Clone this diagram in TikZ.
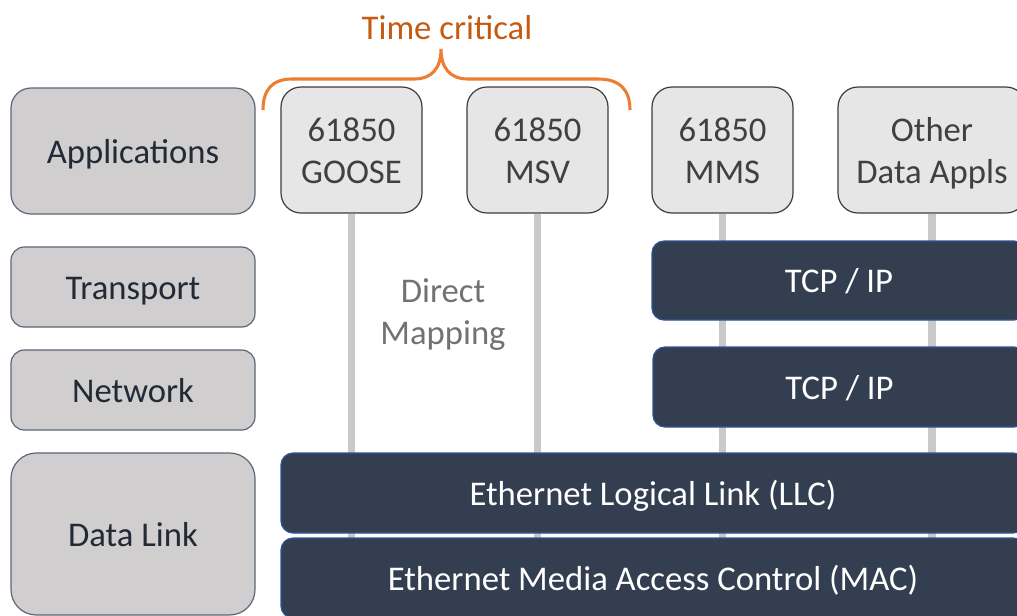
\documentclass[tikz,border=0pt]{standalone}
\usepackage{fontspec}
\setmainfont{Carlito}
\newcommand\tstr{\rule{0pt}{23.5pt}}
\newcommand\bstr{\rule[-5.5pt]{0pt}{5.5pt}}
\begin{document}
\begin{tikzpicture}[x=0.75pt,y=-0.75pt,
  font=\fontsize{26}{31.5}\selectfont,
  layer/.style={draw=layerborder,line width=0.9pt,fill=layerfill,text=layertext,
    inner sep=0pt,minimum width=183pt,align=center},
  appbox/.style={draw=appborder,line width=0.9pt,fill=appfill,text=apptext,
    inner sep=0pt,minimum width=105.75pt,minimum height=94.5pt,rounded corners=15pt,align=center},
  darkbox/.style={draw=darkborder,line width=0.9pt,fill=darkfill,text=white,
    inner sep=0pt,rounded corners=9pt,align=center},
  conn/.style={draw=connfill,line width=5.5pt}
]
\definecolor{layerfill}{HTML}{D0CECE}
\definecolor{layerborder}{HTML}{5C6676}
\definecolor{layertext}{HTML}{222A35}
\definecolor{appfill}{HTML}{E7E6E6}
\definecolor{appborder}{HTML}{3C3C3C}
\definecolor{apptext}{HTML}{404040}
\definecolor{darkfill}{HTML}{333F50}
\definecolor{darkborder}{HTML}{2F5597}
\definecolor{connfill}{HTML}{C9C9C9}
\definecolor{bracecol}{HTML}{ED7D31}
\definecolor{timecol}{HTML}{C55A11}
\definecolor{mapcol}{HTML}{767171}
\useasboundingbox (0,0) rectangle (1017,615);
\clip (0,0) rectangle (1017,615);

% layer labels
\node[layer,minimum height=94.5pt,rounded corners=15pt] (app) at (133,151) {\tstr Applications\bstr};
\node[layer,minimum height=60pt,rounded corners=10pt] (trans) at (133,287) {\tstr Transport\bstr};
\node[layer,minimum height=60pt,rounded corners=10pt] (net) at (133,390) {\tstr Network\bstr};
\node[layer,minimum height=121.5pt,rounded corners=19pt] (dl) at (133,534) {\tstr Data Link\bstr};

% application boxes
\node[appbox] (goose) at (351.5,150) {\tstr 61850\\GOOSE\bstr};
\node[appbox] (msv) at (537.5,150) {\tstr 61850\\MSV\bstr};
\node[appbox] (mms) at (722.5,150) {\tstr 61850\\MMS\bstr};
\node[appbox,minimum width=141pt] (other) at (932,150) {\tstr Other\\Data Appls\bstr};

% connectors
\coordinate (gend) at (351.5,620);
\coordinate (mend) at (537.5,620);
\coordinate (send) at (722.5,620);
\coordinate (oend) at (932,620);
\draw[conn] (goose.south) -- (gend);
\draw[conn] (msv.south) -- (mend);
\draw[conn] (mms.south) -- (send);
\draw[conn] (other.south) -- (oend);

% dark boxes
\node[darkbox,minimum width=280.5pt,minimum height=59.25pt] (tcp1) at (839,280.5) {\tstr TCP / IP\bstr};
\node[darkbox,minimum width=279.75pt,minimum height=60pt] (tcp2) at (839.5,387) {\tstr TCP / IP\bstr};
\node[darkbox,minimum width=558pt,minimum height=60pt] (llc) at (653,493) {\tstr Ethernet Logical Link (LLC)\bstr};
\node[darkbox,minimum width=558pt,minimum height=60pt] (mac) at (653,578) {\tstr Ethernet Media Access Control (MAC)\bstr};

% direct mapping
\node[text=mapcol,align=center,inner sep=0pt] (dmap) at (443,311) {\tstr Direct\\Mapping\bstr};

% brace
\draw[bracecol,line width=2.3pt]
  (263,110) .. controls (263,90) and (272,79) .. (292,79) -- (414,79)
  .. controls (432,79) and (441,68) .. (441,49)
  .. controls (441,68) and (450,79) .. (468,79) -- (598,79)
  .. controls (620,79) and (630,90) .. (630,110);
\node[text=timecol,inner sep=0pt] (tc) at (447,27) {\tstr Time critical\bstr};
\end{tikzpicture}
\end{document}
